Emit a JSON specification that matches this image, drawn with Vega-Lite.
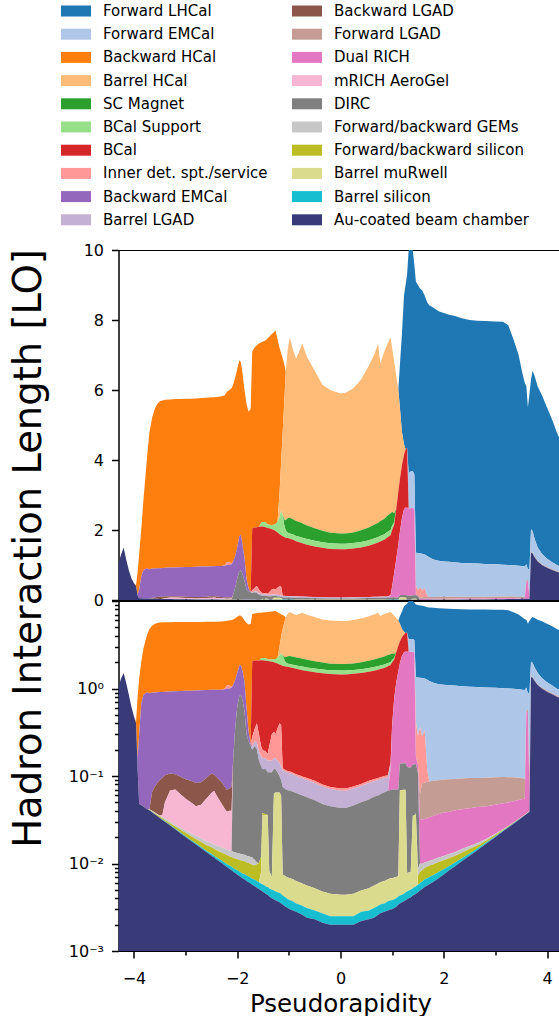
{
"$schema":"https://vega.github.io/schema/vega-lite/v6.json",
"padding":{"left":8.5,"top":1,"right":0,"bottom":0},
"autosize":{"type":"pad"},
"config":{"font":"DejaVu Sans","view":{"stroke":"#000","strokeWidth":1},
"axis":{"labelFont":"DejaVu Sans","labelColor":"#000","domainColor":"#000","tickColor":"#000","tickWidth":1.5,"grid":false,"titleFont":"DejaVu Sans","titleFontWeight":"normal","titleColor":"#000","zindex":1,"labelOverlap":false},
"legend":{"columns":2,"symbolType":"M-1.5,-0.55H1.5V0.55H-1.5Z","symbolSize":400,"symbolStrokeWidth":0,"symbolOpacity":1,"labelFont":"DejaVu Sans","labelFontSize":15,"labelColor":"#000","labelOffset":17,"rowPadding":5.2,"columnPadding":24,"labelLimit":400,"padding":0}},
"datasets":{
"series":[{"key":"lh","name":"Forward LHCal","k":0},{"key":"fem","name":"Forward EMCal","k":1},{"key":"bh","name":"Backward HCal","k":2},{"key":"brh","name":"Barrel HCal","k":3},{"key":"sc","name":"SC Magnet","k":4},{"key":"bs","name":"BCal Support","k":5},{"key":"bc","name":"BCal","k":6},{"key":"id","name":"Inner det. spt./service","k":7},{"key":"bem","name":"Backward EMCal","k":8},{"key":"blg","name":"Barrel LGAD","k":9},{"key":"bklg","name":"Backward LGAD","k":10},{"key":"flg","name":"Forward LGAD","k":11},{"key":"dr","name":"Dual RICH","k":12},{"key":"mr","name":"mRICH AeroGel","k":13},{"key":"dirc","name":"DIRC","k":14},{"key":"gem","name":"Forward/backward GEMs","k":15},{"key":"fsi","name":"Forward/backward silicon","k":16},{"key":"mu","name":"Barrel muRwell","k":17},{"key":"bsi","name":"Barrel silicon","k":18},{"key":"au","name":"Au-coated beam chamber","k":19}],
"rows":[
{"eta":-4.3,"lh":0,"fem":0,"bh":0,"brh":0,"sc":0,"bs":0,"bc":0,"id":0,"bem":0,"blg":0,"bklg":0,"flg":0,"dr":0,"mr":0,"dirc":0,"gem":0,"fsi":0,"mu":0,"bsi":0,"au":1.05},
{"eta":-4.25,"lh":0,"fem":0,"bh":0,"brh":0,"sc":0,"bs":0,"bc":0,"id":0,"bem":0,"blg":0,"bklg":0,"flg":0,"dr":0,"mr":0,"dirc":0,"gem":0,"fsi":0,"mu":0,"bsi":0,"au":1.3},
{"eta":-4.2,"lh":0,"fem":0,"bh":0,"brh":0,"sc":0,"bs":0,"bc":0,"id":0,"bem":0,"blg":0,"bklg":0,"flg":0,"dr":0,"mr":0,"dirc":0,"gem":0,"fsi":0,"mu":0,"bsi":0,"au":1.5},
{"eta":-4.15,"lh":0,"fem":0,"bh":0,"brh":0,"sc":0,"bs":0,"bc":0,"id":0,"bem":0,"blg":0,"bklg":0,"flg":0,"dr":0,"mr":0,"dirc":0,"gem":0,"fsi":0,"mu":0,"bsi":0,"au":1.15},
{"eta":-4.1,"lh":0,"fem":0,"bh":0,"brh":0,"sc":0,"bs":0,"bc":0,"id":0,"bem":0,"blg":0,"bklg":0,"flg":0,"dr":0,"mr":0,"dirc":0,"gem":0,"fsi":0,"mu":0,"bsi":0,"au":0.85},
{"eta":-4.05,"lh":0,"fem":0,"bh":0,"brh":0,"sc":0,"bs":0,"bc":0,"id":0,"bem":0,"blg":0,"bklg":0,"flg":0,"dr":0,"mr":0,"dirc":0,"gem":0,"fsi":0,"mu":0,"bsi":0,"au":0.62},
{"eta":-4.0,"lh":0,"fem":0,"bh":0,"brh":0,"sc":0,"bs":0,"bc":0,"id":0,"bem":0,"blg":0,"bklg":0,"flg":0,"dr":0,"mr":0,"dirc":0,"gem":0,"fsi":0,"mu":0,"bsi":0,"au":0.48},
{"eta":-3.96,"lh":0,"fem":0,"bh":0.02,"brh":0,"sc":0,"bs":0,"bc":0,"id":0,"bem":0,"blg":0,"bklg":0,"flg":0,"dr":0,"mr":0,"dirc":0,"gem":0,"fsi":0,"mu":0,"bsi":0,"au":0.4},
{"eta":-3.93,"lh":0,"fem":0,"bh":0.64,"brh":0,"sc":0,"bs":0,"bc":0,"id":0,"bem":0.04,"blg":0,"bklg":0,"flg":0,"dr":0,"mr":0,"dirc":0,"gem":0,"fsi":0,"mu":0,"bsi":0,"au":0.12},
{"eta":-3.9,"lh":0,"fem":0,"bh":1.0,"brh":0,"sc":0,"bs":0,"bc":0,"id":0,"bem":0.25,"blg":0,"bklg":0,"flg":0,"dr":0,"mr":0,"dirc":0,"gem":0,"fsi":0,"mu":0,"bsi":0,"au":0.048},
{"eta":-3.86,"lh":0,"fem":0,"bh":1.33,"brh":0,"sc":0,"bs":0,"bc":0,"id":0,"bem":0.62,"blg":0,"bklg":0,"flg":0,"dr":0,"mr":0,"dirc":0,"gem":0,"fsi":0,"mu":0,"bsi":0,"au":0.0465},
{"eta":-3.82,"lh":0,"fem":0,"bh":1.955,"brh":0,"sc":0,"bs":0,"bc":0,"id":0,"bem":0.8,"blg":0,"bklg":0,"flg":0,"dr":0,"mr":0,"dirc":0,"gem":0,"fsi":0,"mu":0,"bsi":0,"au":0.0447},
{"eta":-3.78,"lh":0,"fem":0,"bh":2.62,"brh":0,"sc":0,"bs":0,"bc":0,"id":0,"bem":0.84,"blg":0,"bklg":0,"flg":0,"dr":0,"mr":0,"dirc":0,"gem":0,"fsi":0,"mu":0,"bsi":0,"au":0.043},
{"eta":-3.74,"lh":0,"fem":0,"bh":3.3,"brh":0,"sc":0,"bs":0,"bc":0,"id":0,"bem":0.86,"blg":0,"bklg":0,"flg":0,"dr":0,"mr":0,"dirc":0,"gem":0,"fsi":0,"mu":0,"bsi":0,"au":0.0416},
{"eta":-3.7,"lh":0,"fem":0,"bh":3.92,"brh":0,"sc":0,"bs":0,"bc":0,"id":0,"bem":0.838,"blg":0,"bklg":0,"flg":0,"dr":0,"mr":0,"dirc":0,"gem":0.0005,"fsi":0.0005,"mu":0,"bsi":0.0002,"au":0.0405},
{"eta":-3.65,"lh":0,"fem":0,"bh":4.3,"brh":0,"sc":0,"bs":0,"bc":0,"id":0,"bem":0.835,"blg":0,"bklg":0.025,"flg":0,"dr":0,"mr":0,"dirc":0,"gem":0.0007,"fsi":0.0007,"mu":0,"bsi":0.0002,"au":0.0385},
{"eta":-3.6,"lh":0,"fem":0,"bh":4.55,"brh":0,"sc":0,"bs":0,"bc":0,"id":0,"bem":0.825,"blg":0,"bklg":0.0365,"flg":0,"dr":0,"mr":0,"dirc":0,"gem":0.0008,"fsi":0.0008,"mu":0,"bsi":0.0002,"au":0.0366},
{"eta":-3.55,"lh":0,"fem":0,"bh":4.695,"brh":0,"sc":0,"bs":0,"bc":0,"id":0,"bem":0.822,"blg":0,"bklg":0.046,"flg":0,"dr":0,"mr":0,"dirc":0,"gem":0.0009,"fsi":0.0009,"mu":0,"bsi":0.0002,"au":0.0348},
{"eta":-3.5,"lh":0,"fem":0,"bh":4.77,"brh":0,"sc":0,"bs":0,"bc":0,"id":0,"bem":0.82,"blg":0,"bklg":0.0546,"flg":0,"dr":0,"mr":0,"dirc":0,"gem":0.001,"fsi":0.001,"mu":0,"bsi":0.0003,"au":0.0331},
{"eta":-3.45,"lh":0,"fem":0,"bh":4.785,"brh":0,"sc":0,"bs":0,"bc":0,"id":0,"bem":0.82,"blg":0,"bklg":0.059,"flg":0,"dr":0,"mr":0.002,"dirc":0,"gem":0.001,"fsi":0.0011,"mu":0,"bsi":0.0003,"au":0.0315},
{"eta":-3.4,"lh":0,"fem":0,"bh":4.8,"brh":0,"sc":0,"bs":0,"bc":0,"id":0,"bem":0.818,"blg":0,"bklg":0.052,"flg":0,"dr":0,"mr":0.0174,"dirc":0,"gem":0.0011,"fsi":0.0012,"mu":0,"bsi":0.0003,"au":0.03},
{"eta":-3.3,"lh":0,"fem":0,"bh":4.805,"brh":0,"sc":0,"bs":0,"bc":0,"id":0,"bem":0.818,"blg":0,"bklg":0.039,"flg":0,"dr":0,"mr":0.038,"dirc":0,"gem":0.0012,"fsi":0.0014,"mu":0,"bsi":0.0003,"au":0.0272},
{"eta":-3.2,"lh":0,"fem":0,"bh":4.81,"brh":0,"sc":0,"bs":0,"bc":0,"id":0,"bem":0.825,"blg":0,"bklg":0.035,"flg":0,"dr":0,"mr":0.0423,"dirc":0,"gem":0.0013,"fsi":0.0015,"mu":0,"bsi":0.0003,"au":0.0246},
{"eta":-3.1,"lh":0,"fem":0,"bh":4.805,"brh":0,"sc":0,"bs":0,"bc":0,"id":0,"bem":0.837,"blg":0,"bklg":0.036,"flg":0,"dr":0,"mr":0.0363,"dirc":0,"gem":0.0014,"fsi":0.0017,"mu":0,"bsi":0.0004,"au":0.0222},
{"eta":-3.0,"lh":0,"fem":0,"bh":4.81,"brh":0,"sc":0,"bs":0,"bc":0,"id":0,"bem":0.848,"blg":0,"bklg":0.037,"flg":0,"dr":0,"mr":0.0311,"dirc":0,"gem":0.0015,"fsi":0.0019,"mu":0,"bsi":0.0004,"au":0.0201},
{"eta":-2.9,"lh":0,"fem":0,"bh":4.805,"brh":0,"sc":0,"bs":0,"bc":0,"id":0,"bem":0.857,"blg":0,"bklg":0.038,"flg":0,"dr":0,"mr":0.0278,"dirc":0,"gem":0.0016,"fsi":0.002,"mu":0,"bsi":0.0004,"au":0.0182},
{"eta":-2.8,"lh":0,"fem":0,"bh":4.81,"brh":0,"sc":0,"bs":0,"bc":0,"id":0,"bem":0.867,"blg":0,"bklg":0.038,"flg":0,"dr":0,"mr":0.0242,"dirc":0,"gem":0.0017,"fsi":0.0021,"mu":0,"bsi":0.0005,"au":0.0165},
{"eta":-2.7,"lh":0,"fem":0,"bh":4.815,"brh":0,"sc":0,"bs":0,"bc":0,"id":0,"bem":0.87,"blg":0,"bklg":0.038,"flg":0,"dr":0,"mr":0.0276,"dirc":0,"gem":0.0018,"fsi":0.0022,"mu":0,"bsi":0.0005,"au":0.0149},
{"eta":-2.6,"lh":0,"fem":0,"bh":4.82,"brh":0,"sc":0,"bs":0,"bc":0,"id":0,"bem":0.865,"blg":0,"bklg":0.04,"flg":0,"dr":0,"mr":0.0369,"dirc":0,"gem":0.0018,"fsi":0.0023,"mu":0,"bsi":0.0005,"au":0.0135},
{"eta":-2.5,"lh":0,"fem":0,"bh":4.825,"brh":0,"sc":0,"bs":0,"bc":0,"id":0,"bem":0.858,"blg":0,"bklg":0.043,"flg":0,"dr":0,"mr":0.0468,"dirc":0,"gem":0.0019,"fsi":0.0024,"mu":0,"bsi":0.0006,"au":0.0123},
{"eta":-2.45,"lh":0,"fem":0,"bh":4.825,"brh":0,"sc":0,"bs":0,"bc":0,"id":0,"bem":0.861,"blg":0,"bklg":0.036,"flg":0,"dr":0,"mr":0.0514,"dirc":0,"gem":0.0019,"fsi":0.0024,"mu":0,"bsi":0.0006,"au":0.0117},
{"eta":-2.4,"lh":0,"fem":0,"bh":4.83,"brh":0,"sc":0,"bs":0,"bc":0,"id":0,"bem":0.873,"blg":0,"bklg":0.037,"flg":0,"dr":0,"mr":0.0439,"dirc":0,"gem":0.0019,"fsi":0.0025,"mu":0,"bsi":0.0006,"au":0.0111},
{"eta":-2.3,"lh":0,"fem":0,"bh":4.85,"brh":0,"sc":0,"bs":0,"bc":0,"id":0,"bem":0.885,"blg":0,"bklg":0.037,"flg":0,"dr":0,"mr":0.0327,"dirc":0,"gem":0.002,"fsi":0.0025,"mu":0,"bsi":0.0007,"au":0.0101},
{"eta":-2.24,"lh":0,"fem":0,"bh":4.85,"brh":0,"sc":0,"bs":0,"bc":0,"id":0.02,"bem":0.905,"blg":0,"bklg":0.033,"flg":0,"dr":0,"mr":0.0272,"dirc":0,"gem":0.002,"fsi":0.0026,"mu":0,"bsi":0.0007,"au":0.0095},
{"eta":-2.2,"lh":0,"fem":0,"bh":4.87,"brh":0,"sc":0,"bs":0,"bc":0,"id":0.08,"bem":0.931,"blg":0,"bklg":0.03,"flg":0,"dr":0,"mr":0.0246,"dirc":0,"gem":0.002,"fsi":0.0026,"mu":0,"bsi":0.0007,"au":0.0091},
{"eta":-2.15,"lh":0,"fem":0,"bh":4.92,"brh":0,"sc":0,"bs":0,"bc":0,"id":0.08,"bem":0.928,"blg":0,"bklg":0.032,"flg":0,"dr":0,"mr":0.0259,"dirc":0,"gem":0.002,"fsi":0.0026,"mu":0,"bsi":0.0008,"au":0.0087},
{"eta":-2.11,"lh":0,"fem":0,"bh":5.01,"brh":0,"sc":0,"bs":0,"bc":0,"id":0.02,"bem":0.945,"blg":0,"bklg":0.035,"flg":0,"dr":0,"mr":0.0261,"dirc":0,"gem":0.002,"fsi":0.0027,"mu":0,"bsi":0.0008,"au":0.0084},
{"eta":-2.08,"lh":0,"fem":0,"bh":5.05,"brh":0,"sc":0,"bs":0,"bc":0,"id":0,"bem":0.95,"blg":0,"bklg":0,"flg":0,"dr":0,"mr":0,"dirc":0.136,"gem":0.002,"fsi":0.0027,"mu":0,"bsi":0.0008,"au":0.0081},
{"eta":-2.04,"lh":0,"fem":0,"bh":5.1,"brh":0,"sc":0,"bs":0,"bc":0,"id":0,"bem":0.9,"blg":0,"bklg":0,"flg":0,"dr":0,"mr":0,"dirc":0.337,"gem":0.002,"fsi":0.0028,"mu":0,"bsi":0.0008,"au":0.0078},
{"eta":-2.0,"lh":0,"fem":0,"bh":5.1,"brh":0,"sc":0,"bs":0,"bc":0,"id":0,"bem":0.88,"blg":0,"bklg":0,"flg":0,"dr":0,"mr":0,"dirc":0.607,"gem":0.002,"fsi":0.0028,"mu":0,"bsi":0.0009,"au":0.0075},
{"eta":-1.96,"lh":0,"fem":0,"bh":5.03,"brh":0,"sc":0,"bs":0,"bc":0,"id":0,"bem":1.0,"blg":0,"bklg":0,"flg":0,"dr":0,"mr":0,"dirc":0.807,"gem":0.002,"fsi":0.0029,"mu":0,"bsi":0.0009,"au":0.0072},
{"eta":-1.93,"lh":0,"fem":0,"bh":4.94,"brh":0,"sc":0,"bs":0,"bc":0,"id":0,"bem":1.01,"blg":0,"bklg":0,"flg":0,"dr":0,"mr":0,"dirc":0.837,"gem":0.002,"fsi":0.0029,"mu":0,"bsi":0.0009,"au":0.007},
{"eta":-1.9,"lh":0,"fem":0,"bh":4.9,"brh":0,"sc":0,"bs":0,"bc":0,"id":0,"bem":0.85,"blg":0,"bklg":0,"flg":0,"dr":0,"mr":0,"dirc":0.737,"gem":0.002,"fsi":0.003,"mu":0,"bsi":0.0009,"au":0.0068},
{"eta":-1.86,"lh":0,"fem":0,"bh":4.8,"brh":0,"sc":0,"bs":0,"bc":0,"id":0,"bem":0.65,"blg":0,"bklg":0,"flg":0,"dr":0,"mr":0,"dirc":0.537,"gem":0.002,"fsi":0.003,"mu":0,"bsi":0.001,"au":0.0066},
{"eta":-1.82,"lh":0,"fem":0,"bh":5.0,"brh":0,"sc":0,"bs":0,"bc":0,"id":0,"bem":0.3,"blg":0,"bklg":0,"flg":0,"dr":0,"mr":0,"dirc":0.288,"gem":0.002,"fsi":0.003,"mu":0,"bsi":0.001,"au":0.0063},
{"eta":-1.78,"lh":0,"fem":0,"bh":5.06,"brh":0,"sc":0,"bs":0,"bc":0,"id":0,"bem":0.07,"blg":0,"bklg":0,"flg":0,"dr":0,"mr":0,"dirc":0.238,"gem":0.002,"fsi":0.003,"mu":0,"bsi":0.001,"au":0.0061},
{"eta":-1.74,"lh":0,"fem":0,"bh":5.23,"brh":0,"sc":0,"bs":0,"bc":0,"id":0,"bem":0.01,"blg":0,"bklg":0,"flg":0,"dr":0,"mr":0,"dirc":0.208,"gem":0.002,"fsi":0.003,"mu":0,"bsi":0.001,"au":0.0059},
{"eta":-1.71,"lh":0,"fem":0,"bh":5.05,"brh":0,"sc":0,"bs":0,"bc":1.77,"id":0.06,"bem":0,"blg":0.02,"bklg":0,"flg":0,"dr":0,"mr":0,"dirc":0.188,"gem":0.002,"fsi":0.003,"mu":0,"bsi":0.001,"au":0.0057},
{"eta":-1.66,"lh":0,"fem":0,"bh":5.15,"brh":0,"sc":0,"bs":0,"bc":1.72,"id":0.1,"bem":0,"blg":0.03,"bklg":0,"flg":0,"dr":0,"mr":0,"dirc":0.209,"gem":0.0015,"fsi":0.003,"mu":0,"bsi":0.001,"au":0.0055},
{"eta":-1.62,"lh":0,"fem":0,"bh":5.2,"brh":0,"sc":0,"bs":0,"bc":1.68,"id":0.16,"bem":0,"blg":0.04,"bklg":0,"flg":0,"dr":0,"mr":0,"dirc":0.19,"gem":0.0005,"fsi":0.0035,"mu":0,"bsi":0.001,"au":0.0053},
{"eta":-1.58,"lh":0,"fem":0,"bh":5.24,"brh":0,"sc":0,"bs":0,"bc":1.79,"id":0.11,"bem":0,"blg":0.04,"bklg":0,"flg":0,"dr":0,"mr":0,"dirc":0.14,"gem":0,"fsi":0.004,"mu":0,"bsi":0.001,"au":0.0051},
{"eta":-1.54,"lh":0,"fem":0,"bh":5.16,"brh":0,"sc":0,"bs":0.1,"bc":1.88,"id":0.05,"bem":0,"blg":0.04,"bklg":0,"flg":0,"dr":0,"mr":0,"dirc":0.118,"gem":0,"fsi":0.004,"mu":0.002,"bsi":0.001,"au":0.0049},
{"eta":-1.51,"lh":0,"fem":0,"bh":5.15,"brh":0,"sc":0,"bs":0.13,"bc":1.9,"id":0.04,"bem":0,"blg":0.04,"bklg":0,"flg":0,"dr":0,"mr":0,"dirc":0.082,"gem":0,"fsi":0.002,"mu":0.03,"bsi":0.001,"au":0.0048},
{"eta":-1.45,"lh":0,"fem":0,"bh":5.2,"brh":0,"sc":0,"bs":0.14,"bc":1.89,"id":0.03,"bem":0,"blg":0.04,"bklg":0,"flg":0,"dr":0,"mr":0,"dirc":0.084,"gem":0,"fsi":0.001,"mu":0.03,"bsi":0.001,"au":0.0045},
{"eta":-1.41,"lh":0,"fem":0,"bh":5.32,"brh":0,"sc":0,"bs":0.1,"bc":1.88,"id":0.03,"bem":0,"blg":0.04,"bklg":0,"flg":0,"dr":0,"mr":0,"dirc":0.074,"gem":0,"fsi":0.0005,"mu":0.03,"bsi":0.001,"au":0.0044},
{"eta":-1.38,"lh":0,"fem":0,"bh":5.37,"brh":0,"sc":0,"bs":0.1,"bc":1.83,"id":0.07,"bem":0,"blg":0.04,"bklg":0,"flg":0,"dr":0,"mr":0,"dirc":0.102,"gem":0,"fsi":0,"mu":0.003,"bsi":0.001,"au":0.0042},
{"eta":-1.33,"lh":0,"fem":0,"bh":5.46,"brh":0,"sc":0,"bs":0.12,"bc":1.72,"id":0.15,"bem":0,"blg":0.04,"bklg":0,"flg":0,"dr":0,"mr":0,"dirc":0.103,"gem":0,"fsi":0,"mu":0.002,"bsi":0.001,"au":0.004},
{"eta":-1.29,"lh":0,"fem":0,"bh":5.5,"brh":0,"sc":0,"bs":0.15,"bc":1.68,"id":0.16,"bem":0,"blg":0.04,"bklg":0,"flg":0,"dr":0,"mr":0,"dirc":0.057,"gem":0,"fsi":0,"mu":0.058,"bsi":0.001,"au":0.0039},
{"eta":-1.26,"lh":0,"fem":0,"bh":5.54,"brh":0,"sc":0,"bs":0.2,"bc":1.67,"id":0.14,"bem":0,"blg":0.04,"bklg":0,"flg":0,"dr":0,"mr":0,"dirc":0.055,"gem":0,"fsi":0,"mu":0.06,"bsi":0.001,"au":0.0038},
{"eta":-1.22,"lh":0,"fem":0,"bh":5.22,"brh":0,"sc":0,"bs":0.3,"bc":1.58,"id":0.2,"bem":0,"blg":0.04,"bklg":0,"flg":0,"dr":0,"mr":0,"dirc":0.045,"gem":0,"fsi":0,"mu":0.06,"bsi":0.001,"au":0.0037},
{"eta":-1.18,"lh":0,"fem":0,"bh":4.13,"brh":0.69,"sc":0,"bs":0.5,"bc":1.48,"id":0.26,"bem":0,"blg":0.04,"bklg":0,"flg":0,"dr":0,"mr":0,"dirc":0.035,"gem":0,"fsi":0,"mu":0.06,"bsi":0.001,"au":0.0036},
{"eta":-1.15,"lh":0,"fem":0,"bh":3.12,"brh":1.38,"sc":0,"bs":0.7,"bc":1.47,"id":0.25,"bem":0,"blg":0.04,"bklg":0,"flg":0,"dr":0,"mr":0,"dirc":0.03,"gem":0,"fsi":0,"mu":0.055,"bsi":0.001,"au":0.0035},
{"eta":-1.12,"lh":0,"fem":0,"bh":2.11,"brh":2.37,"sc":0,"bs":0.6,"bc":1.697,"id":0.006,"bem":0,"blg":0.042,"bklg":0,"flg":0,"dr":0,"mr":0,"dirc":0.0675,"gem":0,"fsi":0,"mu":0.0032,"bsi":0.0009,"au":0.0034},
{"eta":-1.09,"lh":0,"fem":0,"bh":1.11,"brh":3.34,"sc":0.15,"bs":0.35,"bc":1.681,"id":0.005,"bem":0,"blg":0.042,"bklg":0,"flg":0,"dr":0,"mr":0,"dirc":0.065,"gem":0,"fsi":0,"mu":0.0031,"bsi":0.0009,"au":0.0033},
{"eta":-1.06,"lh":0,"fem":0,"bh":0,"brh":4.24,"sc":0.3,"bs":0.2,"bc":1.664,"id":0.005,"bem":0,"blg":0.041,"bklg":0,"flg":0,"dr":0,"mr":0,"dirc":0.063,"gem":0,"fsi":0,"mu":0.003,"bsi":0.0009,"au":0.0032},
{"eta":-1.02,"lh":0,"fem":0,"bh":0,"brh":4.86,"sc":0.42,"bs":0.15,"bc":1.656,"id":0.005,"bem":0,"blg":0.04,"bklg":0,"flg":0,"dr":0,"mr":0,"dirc":0.062,"gem":0,"fsi":0,"mu":0.003,"bsi":0.0008,"au":0.0031},
{"eta":-0.98,"lh":0,"fem":0,"bh":0,"brh":5.15,"sc":0.45,"bs":0.15,"bc":1.637,"id":0.005,"bem":0,"blg":0.04,"bklg":0,"flg":0,"dr":0,"mr":0,"dirc":0.061,"gem":0,"fsi":0,"mu":0.003,"bsi":0.0008,"au":0.003},
{"eta":-0.92,"lh":0,"fem":0,"bh":0,"brh":4.84,"sc":0.44,"bs":0.15,"bc":1.611,"id":0.005,"bem":0,"blg":0.038,"bklg":0,"flg":0,"dr":0,"mr":0,"dirc":0.0594,"gem":0,"fsi":0,"mu":0.0029,"bsi":0.0008,"au":0.0029},
{"eta":-0.86,"lh":0,"fem":0,"bh":0,"brh":4.64,"sc":0.43,"bs":0.15,"bc":1.575,"id":0.005,"bem":0,"blg":0.036,"bklg":0,"flg":0,"dr":0,"mr":0,"dirc":0.0577,"gem":0,"fsi":0,"mu":0.0028,"bsi":0.0007,"au":0.0028},
{"eta":-0.8,"lh":0,"fem":0,"bh":0,"brh":4.87,"sc":0.42,"bs":0.16,"bc":1.548,"id":0.005,"bem":0,"blg":0.035,"bklg":0,"flg":0,"dr":0,"mr":0,"dirc":0.0559,"gem":0,"fsi":0,"mu":0.0027,"bsi":0.0007,"au":0.0027},
{"eta":-0.74,"lh":0,"fem":0,"bh":0,"brh":5.14,"sc":0.41,"bs":0.16,"bc":1.521,"id":0.005,"bem":0,"blg":0.034,"bklg":0,"flg":0,"dr":0,"mr":0,"dirc":0.0541,"gem":0,"fsi":0,"mu":0.0026,"bsi":0.0007,"au":0.0026},
{"eta":-0.65,"lh":0,"fem":0,"bh":0,"brh":4.82,"sc":0.39,"bs":0.16,"bc":1.485,"id":0.005,"bem":0,"blg":0.033,"bklg":0,"flg":0,"dr":0,"mr":0,"dirc":0.0514,"gem":0,"fsi":0,"mu":0.0025,"bsi":0.0007,"au":0.0024},
{"eta":-0.5,"lh":0,"fem":0,"bh":0,"brh":4.5,"sc":0.36,"bs":0.16,"bc":1.442,"id":0.005,"bem":0,"blg":0.03,"bklg":0,"flg":0,"dr":0,"mr":0,"dirc":0.0478,"gem":0,"fsi":0,"mu":0.0023,"bsi":0.0006,"au":0.0023},
{"eta":-0.35,"lh":0,"fem":0,"bh":0,"brh":4.17,"sc":0.33,"bs":0.16,"bc":1.41,"id":0.004,"bem":0,"blg":0.028,"bklg":0,"flg":0,"dr":0,"mr":0,"dirc":0.0432,"gem":0,"fsi":0,"mu":0.0021,"bsi":0.0006,"au":0.0021},
{"eta":-0.2,"lh":0,"fem":0,"bh":0,"brh":4.08,"sc":0.3,"bs":0.16,"bc":1.385,"id":0.004,"bem":0,"blg":0.026,"bklg":0,"flg":0,"dr":0,"mr":0,"dirc":0.0405,"gem":0,"fsi":0,"mu":0.002,"bsi":0.0005,"au":0.002},
{"eta":0.0,"lh":0,"fem":0,"bh":0,"brh":4.0,"sc":0.29,"bs":0.16,"bc":1.378,"id":0.004,"bem":0,"blg":0.025,"bklg":0,"flg":0,"dr":0,"mr":0,"dirc":0.0386,"gem":0,"fsi":0,"mu":0.0019,"bsi":0.0005,"au":0.002},
{"eta":0.1,"lh":0,"fem":0,"bh":0,"brh":4.02,"sc":0.29,"bs":0.16,"bc":1.378,"id":0.004,"bem":0,"blg":0.025,"bklg":0,"flg":0,"dr":0,"mr":0,"dirc":0.0386,"gem":0,"fsi":0,"mu":0.0019,"bsi":0.0005,"au":0.002},
{"eta":0.25,"lh":0,"fem":0,"bh":0,"brh":4.12,"sc":0.3,"bs":0.16,"bc":1.394,"id":0.004,"bem":0,"blg":0.026,"bklg":0,"flg":0,"dr":0,"mr":0,"dirc":0.0415,"gem":0,"fsi":0,"mu":0.002,"bsi":0.0005,"au":0.002},
{"eta":0.4,"lh":0,"fem":0,"bh":0,"brh":4.31,"sc":0.33,"bs":0.16,"bc":1.419,"id":0.004,"bem":0,"blg":0.027,"bklg":0,"flg":0,"dr":0,"mr":0,"dirc":0.0451,"gem":0,"fsi":0,"mu":0.0021,"bsi":0.0006,"au":0.0022},
{"eta":0.55,"lh":0,"fem":0,"bh":0,"brh":4.63,"sc":0.36,"bs":0.16,"bc":1.462,"id":0.005,"bem":0,"blg":0.029,"bklg":0,"flg":0,"dr":0,"mr":0,"dirc":0.0488,"gem":0,"fsi":0,"mu":0.0023,"bsi":0.0006,"au":0.0023},
{"eta":0.65,"lh":0,"fem":0,"bh":0,"brh":4.85,"sc":0.39,"bs":0.16,"bc":1.508,"id":0.005,"bem":0,"blg":0.029,"bklg":0,"flg":0,"dr":0,"mr":0,"dirc":0.0524,"gem":0,"fsi":0,"mu":0.0025,"bsi":0.0007,"au":0.0024},
{"eta":0.73,"lh":0,"fem":0,"bh":0,"brh":5.12,"sc":0.41,"bs":0.16,"bc":1.545,"id":0.005,"bem":0,"blg":0.03,"bklg":0,"flg":0,"dr":0,"mr":0,"dirc":0.0541,"gem":0,"fsi":0,"mu":0.0026,"bsi":0.0007,"au":0.0026},
{"eta":0.77,"lh":0,"fem":0,"bh":0,"brh":4.51,"sc":0.42,"bs":0.16,"bc":1.573,"id":0.005,"bem":0,"blg":0.03,"bklg":0,"flg":0,"dr":0,"mr":0,"dirc":0.0559,"gem":0,"fsi":0,"mu":0.0027,"bsi":0.0007,"au":0.0027},
{"eta":0.85,"lh":0,"fem":0,"bh":0,"brh":4.78,"sc":0.44,"bs":0.16,"bc":1.62,"id":0.005,"bem":0,"blg":0.03,"bklg":0,"flg":0,"dr":0,"mr":0,"dirc":0.0587,"gem":0,"fsi":0,"mu":0.0028,"bsi":0.0007,"au":0.0028},
{"eta":0.92,"lh":0,"fem":0,"bh":0,"brh":4.93,"sc":0.46,"bs":0.16,"bc":1.698,"id":0.005,"bem":0,"blg":0.029,"bklg":0,"flg":0,"dr":0,"mr":0,"dirc":0.0614,"gem":0,"fsi":0,"mu":0.0029,"bsi":0.0008,"au":0.0029},
{"eta":0.97,"lh":0,"fem":0,"bh":0,"brh":5.03,"sc":0.47,"bs":0.15,"bc":1.706,"id":0.005,"bem":0,"blg":0.02,"bklg":0,"flg":0,"dr":0.05,"mr":0,"dirc":0.0622,"gem":0,"fsi":0,"mu":0.003,"bsi":0.0008,"au":0.003},
{"eta":1.0,"lh":0,"fem":0,"bh":0,"brh":4.68,"sc":0.4,"bs":0.12,"bc":1.615,"id":0.005,"bem":0,"blg":0.01,"bklg":0,"flg":0,"dr":0.3,"mr":0,"dirc":0.0632,"gem":0,"fsi":0,"mu":0.003,"bsi":0.0008,"au":0.003},
{"eta":1.04,"lh":0,"fem":0,"bh":0,"brh":4.32,"sc":0.25,"bs":0.08,"bc":1.375,"id":0.005,"bem":0,"blg":0,"bklg":0,"flg":0,"dr":0.7,"mr":0,"dirc":0.0631,"gem":0,"fsi":0,"mu":0.003,"bsi":0.0008,"au":0.0031},
{"eta":1.08,"lh":0,"fem":0,"bh":0,"brh":3.8,"sc":0,"bs":0,"bc":1.425,"id":0.005,"bem":0,"blg":0,"bklg":0,"flg":0,"dr":1.1,"mr":0,"dirc":0.063,"gem":0,"fsi":0,"mu":0.003,"bsi":0.0008,"au":0.0032},
{"eta":1.12,"lh":0,"fem":0,"bh":0,"brh":2.9,"sc":0,"bs":0,"bc":1.525,"id":0.005,"bem":0,"blg":0,"bklg":0,"flg":0,"dr":1.5,"mr":0,"dirc":0.063,"gem":0,"fsi":0,"mu":0.003,"bsi":0.0008,"au":0.0034},
{"eta":1.15,"lh":1.2,"fem":0,"bh":0,"brh":2.05,"sc":0,"bs":0,"bc":1.506,"id":0.005,"bem":0,"blg":0,"bklg":0,"flg":0,"dr":1.8,"mr":0,"dirc":0.07,"gem":0,"fsi":0,"mu":0.065,"bsi":0.0008,"au":0.0035},
{"eta":1.19,"lh":2.8,"fem":0,"bh":0,"brh":0.95,"sc":0,"bs":0,"bc":1.506,"id":0.005,"bem":0,"blg":0,"bklg":0,"flg":0,"dr":2.2,"mr":0,"dirc":0.07,"gem":0,"fsi":0,"mu":0.065,"bsi":0.0008,"au":0.0036},
{"eta":1.23,"lh":4.25,"fem":0,"bh":0,"brh":0.3,"sc":0,"bs":0,"bc":1.555,"id":0.005,"bem":0,"blg":0,"bklg":0,"flg":0,"dr":2.45,"mr":0,"dirc":0.07,"gem":0,"fsi":0,"mu":0.065,"bsi":0.0008,"au":0.0037},
{"eta":1.26,"lh":4.7,"fem":0,"bh":0,"brh":0,"sc":0,"bs":0,"bc":1.655,"id":0.005,"bem":0,"blg":0,"bklg":0,"flg":0,"dr":2.5,"mr":0,"dirc":0.07,"gem":0,"fsi":0,"mu":0.065,"bsi":0.0009,"au":0.0038},
{"eta":1.29,"lh":4.95,"fem":0,"bh":0,"brh":0,"sc":0,"bs":0,"bc":1.72,"id":0.005,"bem":0,"blg":0,"bklg":0,"flg":0,"dr":2.5,"mr":0,"dirc":0.12,"gem":0,"fsi":0,"mu":0.003,"bsi":0.0009,"au":0.0039},
{"eta":1.32,"lh":6.675,"fem":1.0,"bh":0,"brh":0,"sc":0,"bs":0,"bc":0,"id":0,"bem":0,"blg":0,"bklg":0,"flg":0,"dr":2.5,"mr":0,"dirc":0.117,"gem":0,"fsi":0,"mu":0.003,"bsi":0.0009,"au":0.004},
{"eta":1.36,"lh":7.3,"fem":1.05,"bh":0,"brh":0,"sc":0,"bs":0,"bc":0,"id":0,"bem":0,"blg":0,"bklg":0,"flg":0,"dr":2.5,"mr":0,"dirc":0.117,"gem":0,"fsi":0,"mu":0.003,"bsi":0.0009,"au":0.0041},
{"eta":1.4,"lh":7.3,"fem":1.05,"bh":0,"brh":0,"sc":0,"bs":0,"bc":0,"id":0,"bem":0,"blg":0,"bklg":0,"flg":0,"dr":2.5,"mr":0,"dirc":0.1,"gem":0,"fsi":0,"mu":0.03,"bsi":0.0009,"au":0.0043},
{"eta":1.43,"lh":6.0,"fem":1.0,"bh":0,"brh":0,"sc":0,"bs":0,"bc":0,"id":0,"bem":0,"blg":0,"bklg":0,"flg":0,"dr":2.45,"mr":0,"dirc":0.1,"gem":0,"fsi":0,"mu":0.03,"bsi":0.001,"au":0.0044},
{"eta":1.46,"lh":7.75,"fem":0.93,"bh":0,"brh":0,"sc":0,"bs":0,"bc":0,"id":0.25,"bem":0,"blg":0,"bklg":0,"flg":0,"dr":0.03,"mr":0,"dirc":0.1,"gem":0.001,"fsi":0.001,"mu":0.03,"bsi":0.001,"au":0.0045},
{"eta":1.5,"lh":7.66,"fem":1.056,"bh":0,"brh":0,"sc":0,"bs":0,"bc":0,"id":0.15,"bem":0,"blg":0,"bklg":0,"flg":0,"dr":0.025,"mr":0,"dirc":0.1,"gem":0.0015,"fsi":0.0015,"mu":0,"bsi":0.001,"au":0.0047},
{"eta":1.54,"lh":7.57,"fem":0.968,"bh":0,"brh":0,"sc":0,"bs":0,"bc":0,"id":0.3,"bem":0,"blg":0,"bklg":0,"flg":0.03,"dr":0.022,"mr":0,"dirc":0,"gem":0.002,"fsi":0.002,"mu":0,"bsi":0.0011,"au":0.0049},
{"eta":1.58,"lh":7.53,"fem":1.038,"bh":0,"brh":0,"sc":0,"bs":0,"bc":0,"id":0.2,"bem":0,"blg":0,"bklg":0,"flg":0.05,"dr":0.022,"mr":0,"dirc":0,"gem":0.0015,"fsi":0.0022,"mu":0,"bsi":0.0011,"au":0.0051},
{"eta":1.63,"lh":7.4,"fem":0.966,"bh":0,"brh":0,"sc":0,"bs":0,"bc":0,"id":0.25,"bem":0,"blg":0,"bklg":0,"flg":0.052,"dr":0.022,"mr":0,"dirc":0,"gem":0.0014,"fsi":0.0023,"mu":0,"bsi":0.0012,"au":0.0054},
{"eta":1.68,"lh":7.24,"fem":1.144,"bh":0,"brh":0,"sc":0,"bs":0,"bc":0,"id":0.03,"bem":0,"blg":0,"bklg":0,"flg":0.053,"dr":0.0225,"mr":0,"dirc":0,"gem":0.0013,"fsi":0.0024,"mu":0,"bsi":0.0012,"au":0.0056},
{"eta":1.72,"lh":7.2,"fem":1.133,"bh":0,"brh":0,"sc":0,"bs":0,"bc":0,"id":0,"bem":0,"blg":0,"bklg":0,"flg":0.053,"dr":0.023,"mr":0,"dirc":0,"gem":0.0013,"fsi":0.0024,"mu":0,"bsi":0.0012,"au":0.0058},
{"eta":1.8,"lh":7.19,"fem":1.072,"bh":0,"brh":0,"sc":0,"bs":0,"bc":0,"id":0,"bem":0,"blg":0,"bklg":0,"flg":0.053,"dr":0.024,"mr":0,"dirc":0,"gem":0.0013,"fsi":0.0024,"mu":0,"bsi":0.0012,"au":0.0062},
{"eta":1.9,"lh":7.13,"fem":1.03,"bh":0,"brh":0,"sc":0,"bs":0,"bc":0,"id":0,"bem":0,"blg":0,"bklg":0,"flg":0.053,"dr":0.025,"mr":0,"dirc":0,"gem":0.0013,"fsi":0.0024,"mu":0,"bsi":0.0012,"au":0.0068},
{"eta":2.0,"lh":7.1,"fem":1.009,"bh":0,"brh":0,"sc":0,"bs":0,"bc":0,"id":0,"bem":0,"blg":0,"bklg":0,"flg":0.053,"dr":0.026,"mr":0,"dirc":0,"gem":0.0013,"fsi":0.0023,"mu":0,"bsi":0.0011,"au":0.0075},
{"eta":2.1,"lh":7.06,"fem":0.998,"bh":0,"brh":0,"sc":0,"bs":0,"bc":0,"id":0,"bem":0,"blg":0,"bklg":0,"flg":0.053,"dr":0.026,"mr":0,"dirc":0,"gem":0.0013,"fsi":0.0022,"mu":0,"bsi":0.001,"au":0.0083},
{"eta":2.2,"lh":7.04,"fem":0.988,"bh":0,"brh":0,"sc":0,"bs":0,"bc":0,"id":0,"bem":0,"blg":0,"bklg":0,"flg":0.052,"dr":0.027,"mr":0,"dirc":0,"gem":0.0013,"fsi":0.002,"mu":0,"bsi":0.001,"au":0.0091},
{"eta":2.35,"lh":6.99,"fem":0.966,"bh":0,"brh":0,"sc":0,"bs":0,"bc":0,"id":0,"bem":0,"blg":0,"bklg":0,"flg":0.052,"dr":0.027,"mr":0,"dirc":0,"gem":0.0013,"fsi":0.0018,"mu":0,"bsi":0.0009,"au":0.0106},
{"eta":2.5,"lh":6.95,"fem":0.955,"bh":0,"brh":0,"sc":0,"bs":0,"bc":0,"id":0,"bem":0,"blg":0,"bklg":0,"flg":0.052,"dr":0.027,"mr":0,"dirc":0,"gem":0.0012,"fsi":0.0016,"mu":0,"bsi":0.0007,"au":0.0123},
{"eta":2.65,"lh":6.94,"fem":0.945,"bh":0,"brh":0,"sc":0,"bs":0,"bc":0,"id":0,"bem":0,"blg":0,"bklg":0,"flg":0.051,"dr":0.027,"mr":0,"dirc":0,"gem":0.001,"fsi":0.0013,"mu":0,"bsi":0.0006,"au":0.0142},
{"eta":2.8,"lh":6.94,"fem":0.934,"bh":0,"brh":0,"sc":0,"bs":0,"bc":0,"id":0,"bem":0,"blg":0,"bklg":0,"flg":0.051,"dr":0.026,"mr":0,"dirc":0,"gem":0.0008,"fsi":0.001,"mu":0,"bsi":0.0005,"au":0.0165},
{"eta":3.0,"lh":6.94,"fem":0.923,"bh":0,"brh":0,"sc":0,"bs":0,"bc":0,"id":0,"bem":0,"blg":0,"bklg":0,"flg":0.05,"dr":0.025,"mr":0,"dirc":0,"gem":0.0006,"fsi":0.0008,"mu":0,"bsi":0.0004,"au":0.0201},
{"eta":3.15,"lh":6.94,"fem":0.912,"bh":0,"brh":0,"sc":0,"bs":0,"bc":0,"id":0,"bem":0,"blg":0,"bklg":0,"flg":0.049,"dr":0.024,"mr":0,"dirc":0,"gem":0.0004,"fsi":0.0005,"mu":0,"bsi":0.0004,"au":0.0234},
{"eta":3.25,"lh":6.85,"fem":0.903,"bh":0,"brh":0,"sc":0,"bs":0,"bc":0,"id":0,"bem":0,"blg":0,"bklg":0,"flg":0.047,"dr":0.023,"mr":0,"dirc":0,"gem":0.0003,"fsi":0.0005,"mu":0,"bsi":0.0003,"au":0.0258},
{"eta":3.35,"lh":6.46,"fem":0.894,"bh":0,"brh":0,"sc":0,"bs":0,"bc":0,"id":0,"bem":0,"blg":0,"bklg":0,"flg":0.045,"dr":0.022,"mr":0,"dirc":0,"gem":0.0003,"fsi":0.0004,"mu":0,"bsi":0.0003,"au":0.0285},
{"eta":3.45,"lh":6.02,"fem":0.885,"bh":0,"brh":0,"sc":0,"bs":0,"bc":0,"id":0,"bem":0,"blg":0,"bklg":0,"flg":0.042,"dr":0.021,"mr":0,"dirc":0,"gem":0.0002,"fsi":0.0003,"mu":0,"bsi":0.0003,"au":0.0315},
{"eta":3.52,"lh":5.53,"fem":0.876,"bh":0,"brh":0,"sc":0,"bs":0,"bc":0,"id":0,"bem":0,"blg":0,"bklg":0,"flg":0.04,"dr":0.02,"mr":0,"dirc":0,"gem":0.0002,"fsi":0.0003,"mu":0,"bsi":0.0002,"au":0.0338},
{"eta":3.57,"lh":5.24,"fem":0.867,"bh":0,"brh":0,"sc":0,"bs":0,"bc":0,"id":0,"bem":0,"blg":0,"bklg":0,"flg":0.038,"dr":0.019,"mr":0,"dirc":0,"gem":0.0002,"fsi":0.0002,"mu":0,"bsi":0.0002,"au":0.0355},
{"eta":3.6,"lh":5.08,"fem":0.45,"bh":0,"brh":0,"sc":0,"bs":0,"bc":0,"id":0,"bem":0,"blg":0,"bklg":0,"flg":0.037,"dr":0.5,"mr":0,"dirc":0,"gem":0.0002,"fsi":0.0002,"mu":0,"bsi":0.0002,"au":0.0366},
{"eta":3.63,"lh":4.63,"fem":0.3,"bh":0,"brh":0,"sc":0,"bs":0,"bc":0,"id":0,"bem":0,"blg":0,"bklg":0,"flg":0.035,"dr":0.5,"mr":0,"dirc":0,"gem":0.0002,"fsi":0.0002,"mu":0,"bsi":0.0002,"au":0.0378},
{"eta":3.66,"lh":5.0,"fem":0.8,"bh":0,"brh":0,"sc":0,"bs":0,"bc":0,"id":0,"bem":0,"blg":0,"bklg":0,"flg":0.035,"dr":0.02,"mr":0,"dirc":0,"gem":0.0002,"fsi":0.0002,"mu":0,"bsi":0.0002,"au":0.039},
{"eta":3.69,"lh":4.28,"fem":0.65,"bh":0,"brh":0,"sc":0,"bs":0,"bc":0,"id":0,"bem":0,"blg":0,"bklg":0,"flg":0.02,"dr":0,"mr":0,"dirc":0,"gem":0,"fsi":0,"mu":0,"bsi":0,"au":1.35},
{"eta":3.72,"lh":4.58,"fem":0.62,"bh":0,"brh":0,"sc":0,"bs":0,"bc":0,"id":0,"bem":0,"blg":0,"bklg":0,"flg":0.02,"dr":0,"mr":0,"dirc":0,"gem":0,"fsi":0,"mu":0,"bsi":0,"au":1.33},
{"eta":3.76,"lh":4.66,"fem":0.5,"bh":0,"brh":0,"sc":0,"bs":0,"bc":0,"id":0,"bem":0,"blg":0,"bklg":0,"flg":0.02,"dr":0,"mr":0,"dirc":0,"gem":0,"fsi":0,"mu":0,"bsi":0,"au":1.22},
{"eta":3.82,"lh":4.6,"fem":0.38,"bh":0,"brh":0,"sc":0,"bs":0,"bc":0,"id":0,"bem":0,"blg":0,"bklg":0,"flg":0.02,"dr":0,"mr":0,"dirc":0,"gem":0,"fsi":0,"mu":0,"bsi":0,"au":1.1},
{"eta":3.9,"lh":4.54,"fem":0.3,"bh":0,"brh":0,"sc":0,"bs":0,"bc":0,"id":0,"bem":0,"blg":0,"bklg":0,"flg":0.02,"dr":0,"mr":0,"dirc":0,"gem":0,"fsi":0,"mu":0,"bsi":0,"au":1.0},
{"eta":4.0,"lh":4.32,"fem":0.24,"bh":0,"brh":0,"sc":0,"bs":0,"bc":0,"id":0,"bem":0,"blg":0,"bklg":0,"flg":0.02,"dr":0,"mr":0,"dirc":0,"gem":0,"fsi":0,"mu":0,"bsi":0,"au":0.92},
{"eta":4.1,"lh":4.07,"fem":0.2,"bh":0,"brh":0,"sc":0,"bs":0,"bc":0,"id":0,"bem":0,"blg":0,"bklg":0,"flg":0.02,"dr":0,"mr":0,"dirc":0,"gem":0,"fsi":0,"mu":0,"bsi":0,"au":0.86},
{"eta":4.2,"lh":3.76,"fem":0.17,"bh":0,"brh":0,"sc":0,"bs":0,"bc":0,"id":0,"bem":0,"blg":0,"bklg":0,"flg":0.02,"dr":0,"mr":0,"dirc":0,"gem":0,"fsi":0,"mu":0,"bsi":0,"au":0.8},
{"eta":4.3,"lh":3.51,"fem":0.16,"bh":0,"brh":0,"sc":0,"bs":0,"bc":0,"id":0,"bem":0,"blg":0,"bklg":0,"flg":0.02,"dr":0,"mr":0,"dirc":0,"gem":0,"fsi":0,"mu":0,"bsi":0,"au":0.76}
]},
"vconcat":[
{"width":444,"height":350,
"data":{"name":"rows"},
"transform":[
{"fold":["lh","fem","bh","brh","sc","bs","bc","id","bem","blg","bklg","flg","dr","mr","dirc","gem","fsi","mu","bsi","au"],"as":["key","v"]},
{"lookup":"key","from":{"data":{"name":"series"},"key":"key","fields":["name","k"]}},
{"stack":"v","groupby":["eta"],"sort":[{"field":"k","order":"descending"}],"as":["v0","v1"]}
],
"mark":{"type":"area","clip":true,"interpolate":"linear"},
"encoding":{
"x":{"field":"eta","type":"quantitative","scale":{"domain":[-4.3,4.3],"nice":false,"zero":false},
"axis":{"title":null,"labels":false,"values":[-4,-3.5,-3,-2.5,-2,-1.5,-1,-0.5,0,0.5,1,1.5,2,2.5,3,3.5,4],"tickSize":{"condition":{"test":"datum.value % 2 == 0","value":-5},"value":-3}}},
"y":{"field":"v1","type":"quantitative","scale":{"domain":[0,10],"nice":false,"clamp":true},
"axis":{"values":[0,2,4,6,8,10],"tickSize":7,"labelFontSize":16,"labelPadding":8,"title":"Hadron Interaction Length [LO]","titleFontSize":38.5,"titleX":-70.5,"titleY":298,"titleAngle":-90,"titleBaseline":"bottom","titleAlign":"center"}},
"y2":{"field":"v0"},
"color":{"field":"name","type":"nominal",
"scale":{"domain":["Forward LHCal","Forward EMCal","Backward HCal","Barrel HCal","SC Magnet","BCal Support","BCal","Inner det. spt./service","Backward EMCal","Barrel LGAD","Backward LGAD","Forward LGAD","Dual RICH","mRICH AeroGel","DIRC","Forward/backward GEMs","Forward/backward silicon","Barrel muRwell","Barrel silicon","Au-coated beam chamber"],
"range":["#1f77b4","#aec7e8","#ff7f0e","#ffbb78","#2ca02c","#98df8a","#d62728","#ff9896","#9467bd","#c5b0d5","#8c564b","#c49c94","#e377c2","#f7b6d2","#7f7f7f","#c7c7c7","#bcbd22","#dbdb8d","#17becf","#393b79"]},
"legend":{"title":null,"orient":"none","legendX":-52.5,"legendY":-249}}
}},
{"width":444,"height":350,
"data":{"name":"rows"},
"transform":[
{"fold":["lh","fem","bh","brh","sc","bs","bc","id","bem","blg","bklg","flg","dr","mr","dirc","gem","fsi","mu","bsi","au"],"as":["key","v"]},
{"lookup":"key","from":{"data":{"name":"series"},"key":"key","fields":["name","k"]}},
{"stack":"v","groupby":["eta"],"sort":[{"field":"k","order":"descending"}],"as":["v0","v1"]}
],
"mark":{"type":"area","clip":true,"interpolate":"linear"},
"encoding":{
"x":{"field":"eta","type":"quantitative","scale":{"domain":[-4.3,4.3],"nice":false,"zero":false},
"axis":{"title":"Pseudorapidity","titleFontSize":24.5,"titlePadding":6,"labelFontSize":16,"labelPadding":12,"labelFlush":false,"format":"d","values":[-4,-3.5,-3,-2.5,-2,-1.5,-1,-0.5,0,0.5,1,1.5,2,2.5,3,3.5,4],"labelExpr":"datum.value % 2 == 0 ? datum.label : ''","tickSize":{"condition":{"test":"datum.value % 2 == 0","value":7},"value":4}}},
"y":{"field":"v1","type":"quantitative","scale":{"type":"log","domain":[0.001,10],"nice":false,"clamp":true},
"axis":{"title":null,"labelFontSize":16,"labelPadding":8,"values":[0.001,0.002,0.003,0.004,0.005,0.006,0.007,0.008,0.009,0.01,0.02,0.03,0.04,0.05,0.06,0.07,0.08,0.09,0.1,0.2,0.3,0.4,0.5,0.6,0.7,0.8,0.9,1,2,3,4,5,6,7,8,9,10],"labelExpr":"datum.value == 1 ? '10⁰' : datum.value == 0.1 ? '10⁻¹' : datum.value == 0.01 ? '10⁻²' : datum.value == 0.001 ? '10⁻³' : ''","tickSize":{"condition":{"test":"abs(log(datum.value)/LN10 - round(log(datum.value)/LN10)) < 0.001","value":7},"value":4}}},
"y2":{"field":"v0"},
"color":{"field":"name","type":"nominal","legend":{"title":null,"orient":"none","legendX":-52.5,"legendY":-249}}
}}
],
"spacing":1,
"bounds":"flush"
}
